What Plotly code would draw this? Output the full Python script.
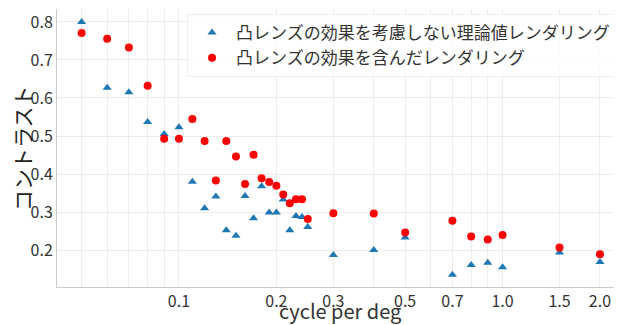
import plotly.graph_objects as go

freq_theory = [0.05, 0.06, 0.07, 0.08, 0.09, 0.10, 0.11, 0.12, 0.13, 0.14, 0.15, 0.16, 0.17, 0.18,
               0.19, 0.20, 0.21, 0.22, 0.23, 0.24, 0.25, 0.3, 0.4, 0.5, 0.7, 0.8, 0.9, 1.0, 1.5, 2.0]
contrast_theory = [0.800, 0.627, 0.615, 0.537, 0.505, 0.523, 0.380, 0.310, 0.341, 0.252, 0.238, 0.342,
                   0.284, 0.368, 0.299, 0.299, 0.333, 0.252, 0.290, 0.287, 0.261, 0.187, 0.200, 0.233,
                   0.135, 0.161, 0.167, 0.155, 0.194, 0.169]

freq_lens = [0.05, 0.06, 0.07, 0.08, 0.09, 0.10, 0.11, 0.12, 0.13, 0.14, 0.15, 0.16, 0.17, 0.18,
             0.19, 0.20, 0.21, 0.22, 0.23, 0.24, 0.25, 0.3, 0.4, 0.5, 0.7, 0.8, 0.9, 1.0, 1.5, 2.0]
contrast_lens = [0.771, 0.756, 0.733, 0.632, 0.493, 0.493, 0.545, 0.487, 0.383, 0.487, 0.446, 0.374,
                 0.451, 0.389, 0.379, 0.369, 0.346, 0.323, 0.334, 0.334, 0.282, 0.297, 0.296, 0.246,
                 0.277, 0.236, 0.228, 0.240, 0.207, 0.189]

grid_vals = [0.05, 0.06, 0.07, 0.08, 0.09, 0.1, 0.2, 0.3, 0.4, 0.5, 0.6, 0.7, 0.8, 0.9, 1.0, 1.5, 2.0]
grid_text = ["", "", "", "", "", "0.1", "0.2", "0.3", "", "0.5", "", "0.7", "", "", "1.0", "1.5", "2.0"]
y_ticks = [0.2, 0.3, 0.4, 0.5, 0.6, 0.7, 0.8]

label_theory = "凸レンズの効果を考慮しない理論値レンダリング"
label_lens = "凸レンズの効果を含んだレンダリング"

FONT = "Noto Sans CJK JP"

fig = go.Figure()
fig.add_trace(go.Scatter(
    x=freq_theory, y=contrast_theory, mode="markers", name=label_theory,
    marker=dict(symbol="triangle-up", size=8, color="#1f77b4"),
))
fig.add_trace(go.Scatter(
    x=freq_lens, y=contrast_lens, mode="markers", name=label_lens,
    marker=dict(symbol="circle", size=8, color="#ff0000"),
))

# page body has an 8px margin, so the figure is sized to the visible 614x317 area
fig.update_layout(
    width=614, height=317,
    margin=dict(l=49, r=2, t=1, b=38, autoexpand=False),
    paper_bgcolor="white", plot_bgcolor="white",
    font=dict(family=FONT, color="#333333"),
    showlegend=True,
    legend=dict(
        x=0.231, y=0.982, xanchor="left", yanchor="top",
        bgcolor="rgba(255,255,255,0.8)", bordercolor="#eeeeee", borderwidth=1,
        font=dict(family=FONT, size=17, color="#333333"),
        itemwidth=38, tracegroupgap=0,
    ),
    xaxis=dict(
        type="log", range=[-1.377, 0.363], automargin=False,
        tickvals=grid_vals, ticktext=grid_text,
        showgrid=True, gridcolor="#ececec", gridwidth=1,
        showline=True, linecolor="#cccccc", linewidth=1,
        ticks="", tickfont=dict(size=16, color="#333333"),
        zeroline=False,
    ),
    yaxis=dict(
        range=[0.103, 0.834], automargin=False,
        tickvals=y_ticks, tickformat=".1f",
        showgrid=True, gridcolor="#ececec", gridwidth=1,
        showline=True, linecolor="#cccccc", linewidth=1,
        ticks="", tickfont=dict(size=16, color="#333333"),
        zeroline=False,
    ),
    annotations=[
        dict(
            text="コントラスト", textangle=-90,
            xref="paper", yref="paper", x=-0.062, y=0.5,
            xanchor="center", yanchor="middle", showarrow=False,
            font=dict(family=FONT, size=21, color="#222222"),
        ),
        dict(
            text="cycle per deg",
            xref="paper", yref="paper", x=0.503, y=-0.084,
            xanchor="center", yanchor="middle", showarrow=False,
            font=dict(family=FONT, size=20, color="#333333"),
        ),
    ],
)

fig.write_html("out.html")
